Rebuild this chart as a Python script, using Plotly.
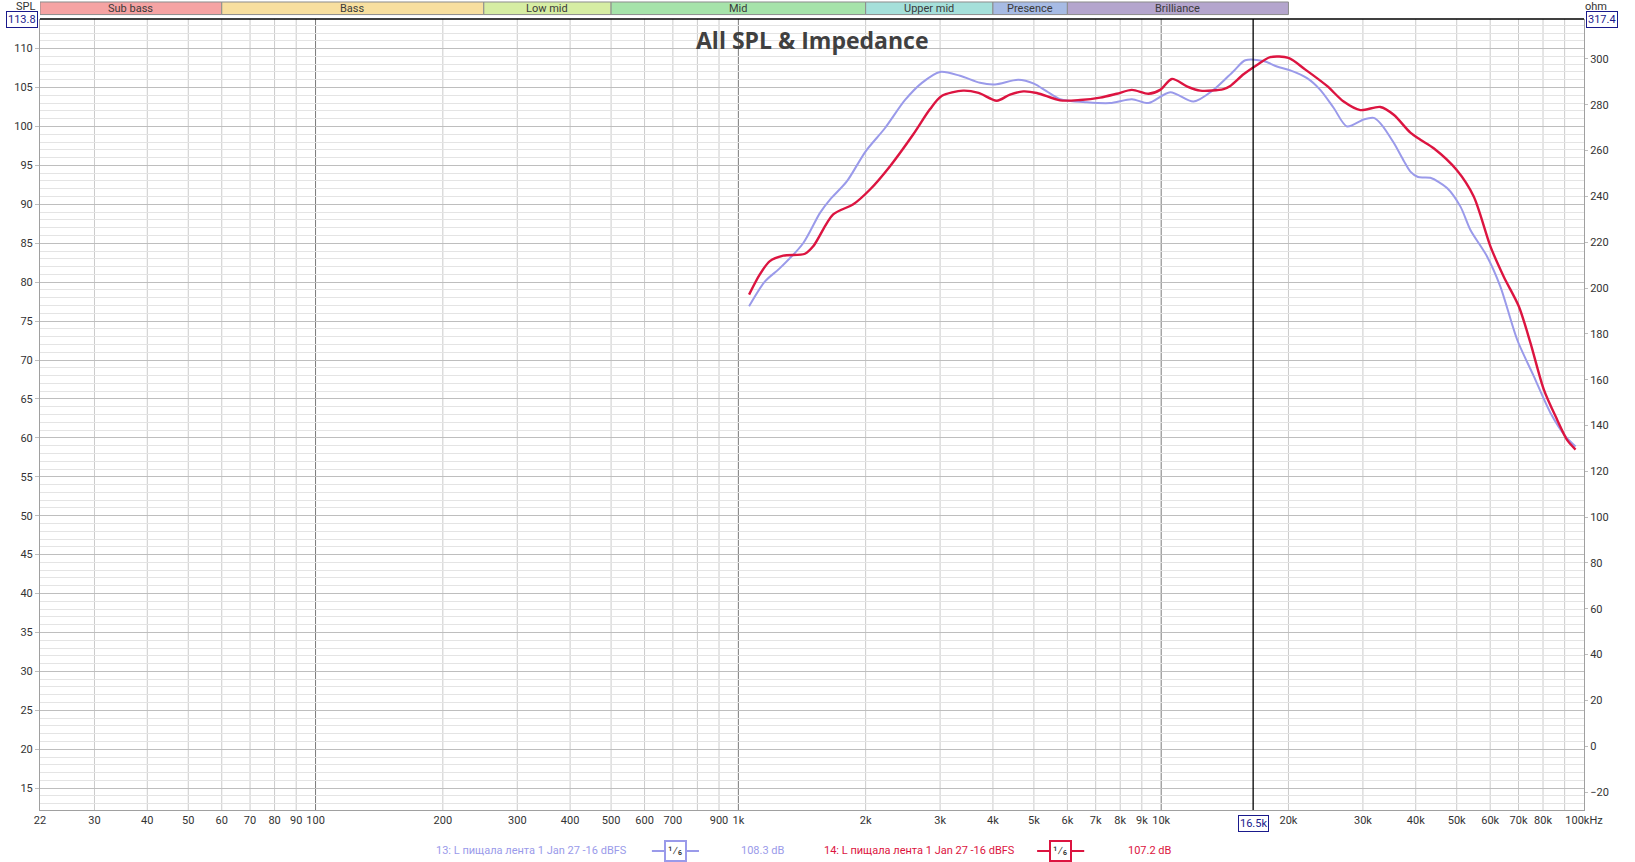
import math
import plotly.graph_objects as go

# ---------------- data ----------------
blue_freq = [1060, 1156, 1254, 1423, 1560, 1647, 1803, 2000, 2223, 2479, 2717, 3000, 3345, 3729, 4045,
             4592, 5000, 5364, 5768, 6668, 7570, 8525, 9331, 10503, 11926, 13298, 14830, 15810, 17460,
             18780, 20200, 22130, 23780, 25570, 27510, 30120, 31810, 33000, 35480, 37460, 38850, 40500,
             43310, 47430, 51030, 53880, 58980, 63450, 69500, 76100, 83310, 90430, 95500]
blue_spl = [76.9, 80.1, 81.8, 85.0, 88.9, 90.6, 92.9, 96.8, 99.8, 103.4, 105.6, 107.0, 106.5, 105.6, 105.4,
            106.0, 105.5, 104.5, 103.5, 103.1, 103.0, 103.5, 103.0, 104.4, 103.2, 104.7, 107.1, 108.5, 108.4,
            107.7, 107.2, 106.2, 104.7, 102.4, 100.0, 100.9, 101.1, 100.4, 97.9, 95.6, 94.2, 93.5,
            93.4, 92.1, 89.7, 86.7, 83.3, 79.4, 72.6, 67.9, 63.2, 60.2, 58.9]

red_freq = [1060, 1124, 1187, 1277, 1437, 1503, 1676, 1870, 2048, 2284, 2593, 2838, 3025, 3400, 3700,
            4085, 4390, 4718, 5080, 5768, 6432, 7172, 7853, 8525, 9331, 9945, 10600, 11505, 12369,
            14045, 14570, 15660, 16850, 18110, 20000, 21930, 24670, 27010, 29580, 32980, 35480, 38850,
            41020, 44110, 50000, 54850, 60070, 64600, 70100, 74700, 80350, 86440, 91260, 95500]
red_spl = [78.4, 81.0, 82.7, 83.4, 83.65, 84.6, 88.7, 90.0, 91.9, 94.9, 99.0, 102.2, 103.9, 104.6, 104.3,
           103.3, 104.1, 104.5, 104.3, 103.35, 103.4, 103.7, 104.2, 104.7, 104.2, 104.7, 106.1, 105.15, 104.6,
           104.8, 105.2, 106.7, 107.9, 108.9, 108.8, 107.3, 105.2, 103.2, 102.1, 102.5, 101.5, 99.2,
           98.3, 97.2, 94.4, 91.0, 84.6, 80.7, 76.9, 72.2, 66.2, 62.3, 59.7, 58.5]

series_names = ["13: L пищала лента 1 Jan 27 -16 dBFS", "14: L пищала лента 1 Jan 27 -16 dBFS"]
series_levels = ["108.3 dB", "107.2 dB"]
series_colors = ["#9A9AEA", "#DC1440"]

band_names = ["Sub bass", "Bass", "Low mid", "Mid", "Upper mid", "Presence", "Brilliance"]
band_edges = [22.3, 60, 250, 500, 2000, 4000, 6000, 20000]
band_colors = ["#F5A3A3", "#F8DF9F", "#D6EDA3", "#A6E3AA", "#A5E0DA", "#A7BBE4", "#B4A5CD"]

x_grid_vals = [30, 40, 50, 60, 70, 80, 90,
               100, 200, 300, 400, 500, 600, 700, 800, 900,
               1000, 2000, 3000, 4000, 5000, 6000, 7000, 8000, 9000,
               10000, 20000, 30000, 40000, 50000, 60000, 70000, 80000, 90000]
x_tick_vals = [22.3, 30, 40, 50, 60, 70, 80, 90, 100, 200, 300, 400, 500, 600, 700, 900,
               1000, 2000, 3000, 4000, 5000, 6000, 7000, 8000, 9000, 10000, 20000, 30000, 40000,
               50000, 60000, 70000, 80000, 100000]
x_tick_text = ["22", "30", "40", "50", "60", "70", "80", "90", "100", "200", "300", "400", "500", "600",
               "700", "900", "1k", "2k", "3k", "4k", "5k", "6k", "7k", "8k", "9k", "10k", "20k", "30k",
               "40k", "50k", "60k", "70k", "80k", "100kHz"]
dark_lines = [100, 1000, 10000]
cursor_freq = 16500
cursor_label = "16.5k"
spl_top, spl_bottom = 113.8, 12.2
ohm_top, ohm_bottom = 317.4, -27.8
ohm_ticks = list(range(-20, 301, 20))
title = "All SPL & Impedance"

FONT = "Roboto"
TXT = "#333333"

fig = go.Figure()

for v in x_grid_vals:
    if v in dark_lines:
        continue
    fig.add_shape(type="line", xref="x", yref="paper", x0=v, x1=v, y0=0, y1=1,
                  line=dict(color="#CBCBCB", width=1), layer="below")
for v in dark_lines:
    fig.add_shape(type="line", xref="x", yref="paper", x0=v, x1=v, y0=0, y1=1,
                  line=dict(color="#7A7A7A", width=1), layer="below")

for f, s, c, w in [(blue_freq, blue_spl, series_colors[0], 2.0), (red_freq, red_spl, series_colors[1], 2.4)]:
    fig.add_trace(go.Scatter(x=f, y=s, mode="lines", line=dict(color=c, width=w, shape="spline", smoothing=0.8),
                             hoverinfo="skip", showlegend=False))

fig.add_trace(go.Scatter(x=[1000], y=[0], yaxis="y2", mode="markers", marker=dict(opacity=0),
                         hoverinfo="skip", showlegend=False))

# cursor
fig.add_shape(type="line", xref="x", yref="paper", x0=cursor_freq, x1=cursor_freq, y0=0, y1=1,
              line=dict(color="#000000", width=1.3))
fig.add_shape(type="line", xref="paper", yref="paper", x0=0, x1=1, y0=1, y1=1,
              line=dict(color="#000000", width=1.5))


def note(x, y, text, xref="paper", **kw):
    fig.add_annotation(x=x, xref=xref, y=y, yref="paper", text=text, showarrow=False,
                       xanchor="center", yanchor="middle", **kw)


# frequency band bar
for i, name in enumerate(band_names):
    a, b = band_edges[i], band_edges[i + 1]
    fig.add_shape(type="rect", xref="x", yref="paper", x0=a, x1=b, y0=1.0056, y1=1.0215,
                  fillcolor=band_colors[i], line=dict(color="#8C8C8C", width=1))
    note((math.log10(a) + math.log10(b)) / 2, 1.0136, name, xref="x",
         font=dict(family=FONT, size=11, color="#3A3A3A"))

note(0.5, 0.973, "<b>" + title + "</b>", font=dict(family="Open Sans", size=23, color="#404040"))

note(-0.0094, 1.0155, "SPL", font=dict(family=FONT, size=11, color=TXT))
note(1.0075, 1.0155, "ohm", font=dict(family=FONT, size=11, color=TXT))
note(-0.0118, 1.0, f"{spl_top}", font=dict(family=FONT, size=11, color="#1A1A8C"),
     bordercolor="#1A1A8C", borderwidth=1, borderpad=1, bgcolor="white")
note(1.0118, 1.0, f"{ohm_top}", font=dict(family=FONT, size=11, color="#1A1A8C"),
     bordercolor="#1A1A8C", borderwidth=1, borderpad=1, bgcolor="white")
note(math.log10(cursor_freq), -0.0165, cursor_label, xref="x",
     font=dict(family=FONT, size=11, color="#1A1A8C"), bordercolor="#1A1A8C",
     borderwidth=1, borderpad=1, bgcolor="white")

# legend row
leg_y = -0.0518
leg = [(0.3185, 0.3963, 0.4268, 0.468), (0.5697, 0.6458, 0.6763, 0.719)]
for i in range(2):
    tx, l0, l1, vx = leg[i]
    c = series_colors[i]
    note(tx, leg_y, series_names[i], font=dict(family=FONT, size=11, color=c))
    fig.add_shape(type="line", xref="paper", yref="paper", x0=l0, x1=l1, y0=leg_y, y1=leg_y,
                  line=dict(color=c, width=2))
    note((l0 + l1) / 2, leg_y, "1⁄6", font=dict(family=FONT, size=12, color="#333333"),
         bordercolor=c, borderwidth=2, borderpad=2, bgcolor="white")
    note(vx, leg_y, series_levels[i], font=dict(family=FONT, size=11, color=c))

fig.update_layout(
    width=1635, height=862,
    margin=dict(l=40, r=51, t=19, b=52, autoexpand=False),
    paper_bgcolor="white", plot_bgcolor="white",
    showlegend=False,
    xaxis=dict(type="log", range=[math.log10(22.3), 5], tickvals=x_tick_vals, ticktext=x_tick_text,
               showgrid=False, zeroline=False, showline=True, linecolor="#A0A0A0", ticks="",
               automargin=False, tickfont=dict(family=FONT, size=11, color=TXT)),
    yaxis=dict(range=[spl_bottom, spl_top], tick0=0, dtick=5, showgrid=True, gridcolor="#BEBEBE",
               minor=dict(dtick=1, tick0=0, showgrid=True, gridcolor="#E4E4E4", ticks=""),
               zeroline=False, showline=True, linecolor="#A0A0A0", ticks="outside", ticklen=4,
               automargin=False, tickcolor="#BEBEBE", tickfont=dict(family=FONT, size=11, color=TXT)),
    yaxis2=dict(range=[ohm_bottom, ohm_top], overlaying="y", side="right", tickvals=ohm_ticks,
                showgrid=False, zeroline=False, showline=True, linecolor="#A0A0A0", ticks="outside",
                ticklen=3, automargin=False, tickcolor="#BEBEBE", tickfont=dict(family=FONT, size=11, color=TXT)),
)

fig.write_html("out.html", config={"displayModeBar": False},
               post_script="document.body.style.margin='0px';document.body.style.overflow='hidden';")
